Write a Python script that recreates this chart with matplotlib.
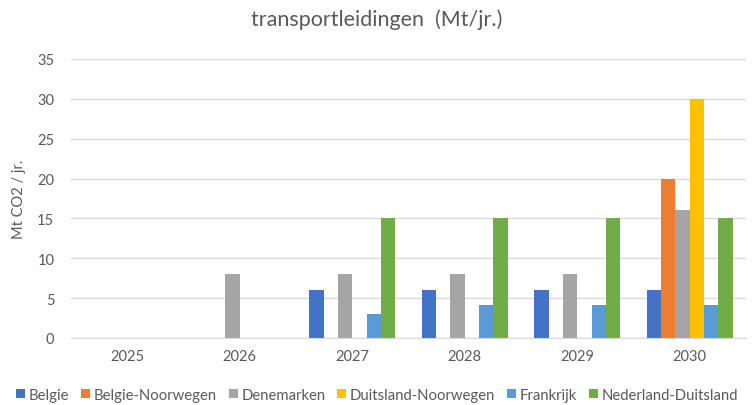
import matplotlib
matplotlib.use("Agg")
import matplotlib.pyplot as plt
import numpy as np

plt.rcParams['font.family'] = ['Lato', 'DejaVu Sans']

years = ["2025", "2026", "2027", "2028", "2029", "2030"]
series_names = ["Belgie", "Belgie-Noorwegen", "Denemarken", "Duitsland-Noorwegen", "Frankrijk", "Nederland-Duitsland"]
belgie = [0, 0, 6, 6, 6, 6]
belgie_noorwegen = [0, 0, 0, 0, 0, 20]
denemarken = [0, 8, 8, 8, 8, 16]
duitsland_noorwegen = [0, 0, 0, 0, 0, 30]
frankrijk = [0, 0, 3, 4.2, 4.2, 4.2]
nederland_duitsland = [0, 0, 15, 15, 15, 15]
colors = ["#4472C4", "#ED7D31", "#A5A5A5", "#FFC000", "#5B9BD5", "#70AD47"]

data = [belgie, belgie_noorwegen, denemarken, duitsland_noorwegen, frankrijk, nederland_duitsland]

fig = plt.figure(figsize=(7.54, 4.06), dpi=100)
ax = fig.add_axes([71/754, 1-339/406, 675/754, 279/406])

x = np.arange(len(years))
w = 0.127
for i, (name, vals, c) in enumerate(zip(series_names, data, colors)):
    ax.bar(x + (i - 2.5) * w, vals, width=w, color=c, label=name, linewidth=0)

ax.set_xlim(-0.5, len(years) - 0.5)
ax.set_ylim(0, 35)
ax.set_yticks(range(0, 36, 5))
ax.set_xticks(x)
ax.set_xticklabels(years)
ax.yaxis.grid(True, color="#D9D9D9", linewidth=1)
ax.set_axisbelow(True)
for s in ["top", "right", "left"]:
    ax.spines[s].set_visible(False)
ax.spines["bottom"].set_color("#D9D9D9")
ax.tick_params(axis="both", length=0, labelsize=10.5, colors="#595959")
ax.tick_params(axis="x", pad=8)
ax.tick_params(axis="y", pad=12)
ax.set_ylabel("Mt CO2 / jr.", fontsize=10.5, color="#595959", labelpad=8)

fig.text(0.5, 1-20/406, "transportleidingen  (Mt/jr.)", ha="center", va="center",
         fontsize=15.5, color="#595959")

fig.legend(loc="center", bbox_to_anchor=(0.5, 1-396/406), ncol=6, frameon=False,
           fontsize=10.7, handlelength=0.6, handleheight=0.6, handletextpad=0.25,
           columnspacing=0.8, labelcolor="#595959")

fig.savefig("out.png", dpi=100)
